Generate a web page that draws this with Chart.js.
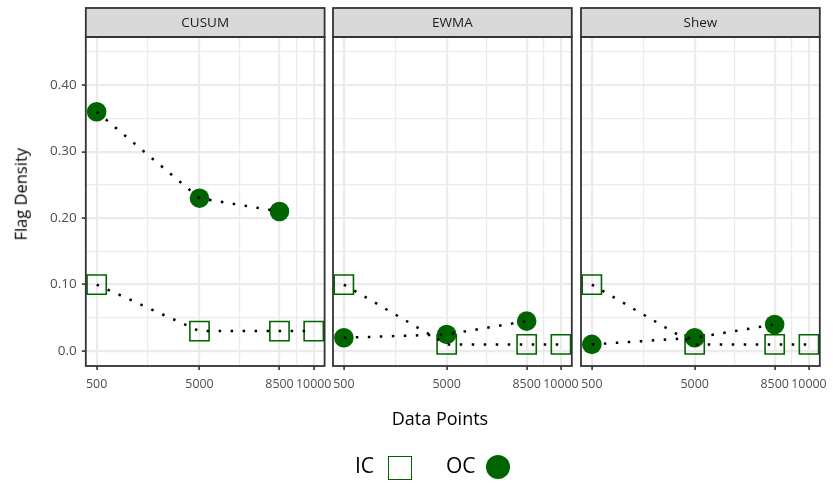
<!DOCTYPE html>
<html>
<head>
<meta charset="utf-8">
<script src="https://cdn.jsdelivr.net/npm/chart.js@4.4.1/dist/chart.umd.min.js"></script>
<style>
  html, body { margin: 0; padding: 0; background: #fff; }
  #wrap { position: relative; width: 833px; height: 483px; overflow: hidden; font-family: 'Open Sans', sans-serif; }
  canvas.panel { position: absolute; top: 0; }
  .txt { position: absolute; white-space: nowrap; color: #000; line-height: 1; }
  #xtitle { left: 340px; width: 200px; text-align: center; top: 409px; font-size: 18px; }
  #ytitle { left: -79px; top: 186px; width: 200px; text-align: center; font-size: 16.5px; transform: rotate(-90deg); }
  #leg-ic { left: 355px; top: 455px; font-size: 21px; }
  #leg-oc { left: 446px; top: 455px; font-size: 21px; }
  #leg-sq { position: absolute; left: 388px; top: 456px; width: 22px; height: 22px; border: 1.6px solid #006400; }
  #leg-dot { position: absolute; left: 486px; top: 455px; width: 24px; height: 24px; border-radius: 50%; background: #006400; }
</style>
</head>
<body>
<div id="wrap">
  <canvas id="p0" class="panel"></canvas>
  <canvas id="p1" class="panel"></canvas>
  <canvas id="p2" class="panel"></canvas>
  <div id="ytitle" class="txt">Flag Density</div>
  <div id="xtitle" class="txt">Data Points</div>
  <div id="leg-ic" class="txt">IC</div>
  <span id="leg-sq"></span>
  <div id="leg-oc" class="txt">OC</div>
  <span id="leg-dot"></span>
</div>
<script>
// facets and data
const panelNames = ['CUSUM', 'EWMA', 'Shew'];
const xBreaks = [500, 5000, 8500, 10000];
const xMinor = [2750, 6750, 9250];
const yBreaks = [0, 0.1, 0.2, 0.3, 0.4];
const yBreakLabels = ['0.0', '0.10', '0.20', '0.30', '0.40'];
const yMinor = [0.05, 0.15, 0.25, 0.35, 0.45];

const icX = [500, 5000, 8500, 10000];
const ocX = [500, 5000, 8500];

const icCusum = [0.10, 0.03, 0.03, 0.03];
const ocCusum = [0.36, 0.23, 0.21];
const icEwma = [0.10, 0.01, 0.01, 0.01];
const ocEwma = [0.02, 0.025, 0.045];
const icShew = [0.10, 0.01, 0.01, 0.01];
const ocShew = [0.01, 0.02, 0.04];

const icSeries = [icCusum, icEwma, icShew];
const ocSeries = [ocCusum, ocEwma, ocShew];

const GREEN = '#006400';
const areaLeft = [85.8, 333.2, 580.8];
const areaWidth = 238.8;
const CANVAS_H = 400;
const PAD_R = 30;
const PAD_L = 20;

const toPoints = (xs, ys) => xs.map((x, i) => ({ x: x, y: ys[i] }));
const isMajorY = v => yBreaks.some(b => Math.abs(b - v) < 1e-9);

// strip + panel border, ggplot theme_bw style
const facetFrame = {
    id: 'facetFrame',
    afterDraw(chart, args, opts) {
        const { ctx, chartArea } = chart;
        const { left, right, top, bottom } = chartArea;
        ctx.save();
        ctx.fillStyle = '#D9D9D9';
        ctx.fillRect(left, 8, right - left, top - 8);
        ctx.strokeStyle = '#333333';
        ctx.lineWidth = 1.8;
        ctx.strokeRect(left, 8, right - left, top - 8);
        ctx.strokeRect(left, top, right - left, bottom - top);
        ctx.fillStyle = '#1A1A1A';
        ctx.font = "13.5px 'Open Sans', sans-serif";
        ctx.textAlign = 'center';
        ctx.textBaseline = 'middle';
        ctx.fillText(opts.label, (left + right) / 2, (8 + top) / 2 + 1);
        ctx.restore();
    }
};

function makePanel(i) {
    const canvas = document.getElementById('p' + i);
    const first = i === 0;
    const canvasLeft = first ? 0 : areaLeft[i] - PAD_L;
    const width = Math.round(areaLeft[i] + areaWidth + PAD_R - canvasLeft);
    canvas.width = width;
    canvas.height = CANVAS_H;
    canvas.style.left = canvasLeft + 'px';
    canvas.style.width = width + 'px';
    canvas.style.height = CANVAS_H + 'px';

    const padRight = width - (areaLeft[i] + areaWidth - canvasLeft);
    const dotted = { borderColor: '#000', borderWidth: 2.5, borderDash: [2.5, 9.5], pointRadius: 0, fill: false, order: 0 };

    return new Chart(canvas.getContext('2d'), {
        type: 'line',
        data: {
            datasets: [
                Object.assign({ label: 'IC line', data: toPoints(icX, icSeries[i]) }, dotted),
                Object.assign({ label: 'OC line', data: toPoints(ocX, ocSeries[i]) }, dotted),
                {
                    label: 'OC',
                    data: toPoints(ocX, ocSeries[i]),
                    showLine: false,
                    pointStyle: 'circle',
                    pointRadius: 9.8,
                    pointBorderWidth: 0,
                    pointBackgroundColor: GREEN,
                    pointBorderColor: GREEN,
                    order: 1
                },
                {
                    label: 'IC',
                    data: toPoints(icX, icSeries[i]),
                    showLine: false,
                    pointStyle: 'rect',
                    pointRadius: 13.6,
                    pointBorderWidth: 1.6,
                    pointBackgroundColor: 'rgba(0,0,0,0)',
                    pointBorderColor: GREEN,
                    order: 2
                }
            ]
        },
        options: {
            responsive: false,
            animation: false,
            devicePixelRatio: 1,
            clip: false,
            layout: {
                padding: { left: first ? 0 : PAD_L, right: padRight, top: 37, bottom: 0 }
            },
            scales: {
                x: {
                    type: 'linear',
                    min: 25,
                    max: 10475,
                    afterBuildTicks: axis => {
                        axis.ticks = xBreaks.concat(xMinor).sort((a, b) => a - b).map(v => ({ value: v }));
                    },
                    afterFit: scale => { scale.height = CANVAS_H - 366; },
                    ticks: {
                        autoSkip: false,
                        maxRotation: 0,
                        padding: 7,
                        color: '#4D4D4D',
                        font: { family: "'Open Sans', sans-serif", size: 12.4 },
                        callback: v => xBreaks.includes(v) ? String(v) : ''
                    },
                    grid: {
                        color: '#EBEBEB',
                        lineWidth: c => (c.tick && xBreaks.includes(c.tick.value)) ? 2.2 : 1.2,
                        tickColor: c => (c.tick && xBreaks.includes(c.tick.value)) ? '#333333' : 'rgba(0,0,0,0)',
                        tickLength: 4,
                        tickWidth: 1.6
                    },
                    border: { display: false }
                },
                y: {
                    min: -0.0225,
                    max: 0.4725,
                    afterBuildTicks: axis => {
                        axis.ticks = yBreaks.concat(yMinor).sort((a, b) => a - b).map(v => ({ value: v }));
                    },
                    afterFit: scale => { scale.width = first ? 85.8 : 0; },
                    ticks: {
                        display: first,
                        padding: 5,
                        color: '#4D4D4D',
                        font: { family: "'Open Sans', sans-serif", size: 13.5 },
                        callback: v => {
                            const k = yBreaks.findIndex(b => Math.abs(b - v) < 1e-9);
                            return k >= 0 ? yBreakLabels[k] : '';
                        }
                    },
                    grid: {
                        color: '#EBEBEB',
                        lineWidth: c => (c.tick && isMajorY(c.tick.value)) ? 2.2 : 1.2,
                        tickColor: c => (c.tick && isMajorY(c.tick.value)) ? '#333333' : 'rgba(0,0,0,0)',
                        drawTicks: first,
                        tickLength: 4,
                        tickWidth: 1.6
                    },
                    border: { display: false }
                }
            },
            plugins: {
                legend: { display: false },
                tooltip: { enabled: false },
                facetFrame: { label: panelNames[i] }
            }
        },
        plugins: [facetFrame]
    });
}

window.addEventListener('DOMContentLoaded', () => {
    panelNames.forEach((name, i) => makePanel(i));
});
</script>
</body>
</html>
